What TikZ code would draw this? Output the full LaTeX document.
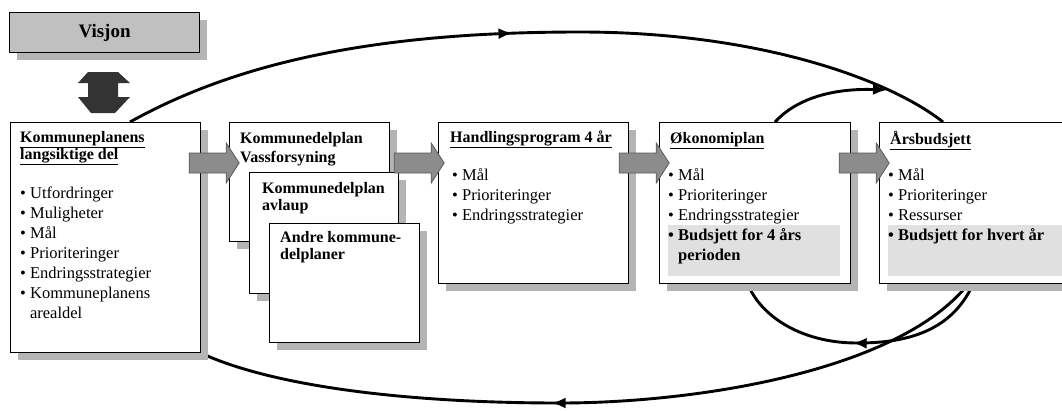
\documentclass[tikz,border=0pt]{standalone}
\usepackage{fontspec}
\setmainfont{Liberation Serif}
\usetikzlibrary{arrows.meta,decorations.markings,shadows}
\definecolor{shadowgray}{HTML}{B4B4B4}
\definecolor{visgray}{HTML}{C0C0C0}
\definecolor{hlgray}{HTML}{E0E0E0}
\definecolor{arrgray}{HTML}{8C8C8C}
\definecolor{darkarr}{HTML}{333333}
\tikzset{
  box/.style={draw=black, line width=1.2pt, fill=white, inner sep=0pt, anchor=north west,
    drop shadow={shadow xshift=7pt, shadow yshift=-7pt, fill=shadowgray, opacity=1}},
  hlbox/.style={fill=hlgray, draw=none, inner sep=0pt, anchor=north west},
  txt/.style={anchor=north west, inner sep=0pt, align=left, font=\fontsize{16.5}{20}\selectfont},
  hdr/.style={anchor=north west, inner sep=0pt, align=left, font=\bfseries\fontsize{16}{17}\selectfont},
  hdrwide/.style={anchor=north west, inner sep=0pt, align=left, font=\bfseries\fontsize{16}{19}\selectfont},
  cycleline/.style={line width=2.9pt, draw=black},
  tipmark/.style={decoration={markings, mark=at position #1 with {\arrow{Latex[length=14pt,width=11pt]}}}, postaction={decorate}},
  blockarr/.style={fill=arrgray, draw=black!65, line width=0.8pt},
}
\newcommand\blockarrow[1]{\draw[blockarr] #1 ++(0,-10) -- ++(37,0) -- ++(0,-10) -- ++(13,20) -- ++(-13,20) -- ++(0,-10) -- ++(-37,0) -- cycle;}
\begin{document}
\begin{tikzpicture}[x=1pt,y=-1pt]
\useasboundingbox (0,0) rectangle (1062,410);
\clip (0,0) rectangle (1062,410);

% Visjon
\node[box, fill=visgray, minimum width=190pt, minimum height=40pt,
      font=\bfseries\fontsize{19}{20}\selectfont] (vis) at (9,12) {Visjon};
% double arrow
\fill[darkarr] (88,72) -- (118,72) -- (130,83) -- (118,83) -- (118,97) -- (130,97)
  -- (115,113) -- (91,113) -- (78,97) -- (88,97) -- (88,83) -- (78,83) -- cycle;

% boxes (nodes)
\node[box, minimum width=190pt, minimum height=230pt] (b1) at (10,122) {};
\node[box, minimum width=190pt, minimum height=161pt] (b3) at (438,122) {};
\node[box, minimum width=191pt, minimum height=161pt] (b4) at (659,122) {};
\node[box, minimum width=190pt, minimum height=161pt] (b5) at (879,122) {};

% cycle connectors
\path[cycleline, tipmark=0.47] ([xshift=120pt]b1.north west) .. controls (250,55) and (400,32) .. (580,32)
   .. controls (760,32) and (890,80) .. ([xshift=64pt]b5.north west);
\coordinate (merge) at (887,90);
\draw[cycleline, -{Latex[length=14pt,width=11pt]}] ([xshift=116pt]b4.north west) .. controls (795,100) and (830,88) .. (merge);
\path[cycleline, tipmark=0.53] ([xshift=94pt]b5.south west) .. controls (950,335) and (900,343) .. (857,343)
   .. controls (800,343) and (760,315) .. ([xshift=89pt]b4.south west);
\path[cycleline, tipmark=0.555] ([xshift=89pt]b5.south west) .. controls (900,370) and (700,403) .. (560,403)
   .. controls (400,403) and (270,385) .. (b1.south east);

% redraw boxes on top of connectors
\node[box, minimum width=190pt, minimum height=230pt] (b1) at (10,122) {};
\node[box, minimum width=190pt, minimum height=161pt] (b3) at (438,122) {};
\node[box, minimum width=191pt, minimum height=161pt] (b4) at (659,122) {};
\node[box, minimum width=190pt, minimum height=161pt] (b5) at (879,122) {};
\node[box, minimum width=160pt, minimum height=119pt] (b2a) at (229,122) {};
\node[box, minimum width=149pt, minimum height=121pt] (b2b) at (249,172) {};
\node[box, minimum width=150pt, minimum height=119pt] (b2c) at (269,223) {};

% highlights
\node[hlbox, minimum width=172pt, minimum height=51pt] (hl4) at (668,225) {};
\node[hlbox, minimum width=180pt, minimum height=51pt] (hl5) at (888,225) {};

% texts
\node[hdr] (h1) at (20,130) {\strut\underline{Kommuneplanens}\\\underline{langsiktige del}};
\node[txt] (l1) at (20,184) {\strut\textbullet\ Utfordringer\\\textbullet\ Muligheter\\\textbullet\ Mål\\\textbullet\ Prioriteringer\\\textbullet\ Endringsstrategier\\\textbullet\ Kommuneplanens\\\phantom{\textbullet\ }arealdel};
\node[hdrwide] (h2a) at (240,130) {\strut Kommunedelplan\\Vassforsyning};
\node[hdr] (h2b) at (262,181) {\strut Kommunedelplan\\avlaup};
\node[hdr] (h2c) at (280,230) {\strut Andre kommune-\\delplaner};
\node[hdr] (h3) at (450,130) {\strut\underline{Handlingsprogram 4 år}};
\node[txt] (l3) at (452,166) {\strut\textbullet\ Mål\\\textbullet\ Prioriteringer\\\textbullet\ Endringsstrategier};
\node[hdr] (h4) at (670,131) {\strut\underline{Økonomiplan}};
\node[txt] (l4) at (668,166) {\strut\textbullet\ Mål\\\textbullet\ Prioriteringer\\\textbullet\ Endringsstrategier\\{\bfseries\textbullet\ Budsjett for 4 års}\\{\bfseries\phantom{\textbullet\ }perioden}};
\node[hdr] (h5) at (890,131) {\strut\underline{Årsbudsjett}};
\node[txt] (l5) at (888,166) {\strut\textbullet\ Mål\\\textbullet\ Prioriteringer\\\textbullet\ Ressurser\\{\bfseries\textbullet\ Budsjett for hvert år}};

% block arrows between boxes
\blockarrow{([xshift=-12pt,yshift=-41pt]b1.north east)}
\blockarrow{([xshift=4pt,yshift=-41pt]b2a.north east)}
\blockarrow{([xshift=-10pt,yshift=-41pt]b3.north east)}
\blockarrow{([xshift=-12pt,yshift=-41pt]b4.north east)}
\end{tikzpicture}
\end{document}
